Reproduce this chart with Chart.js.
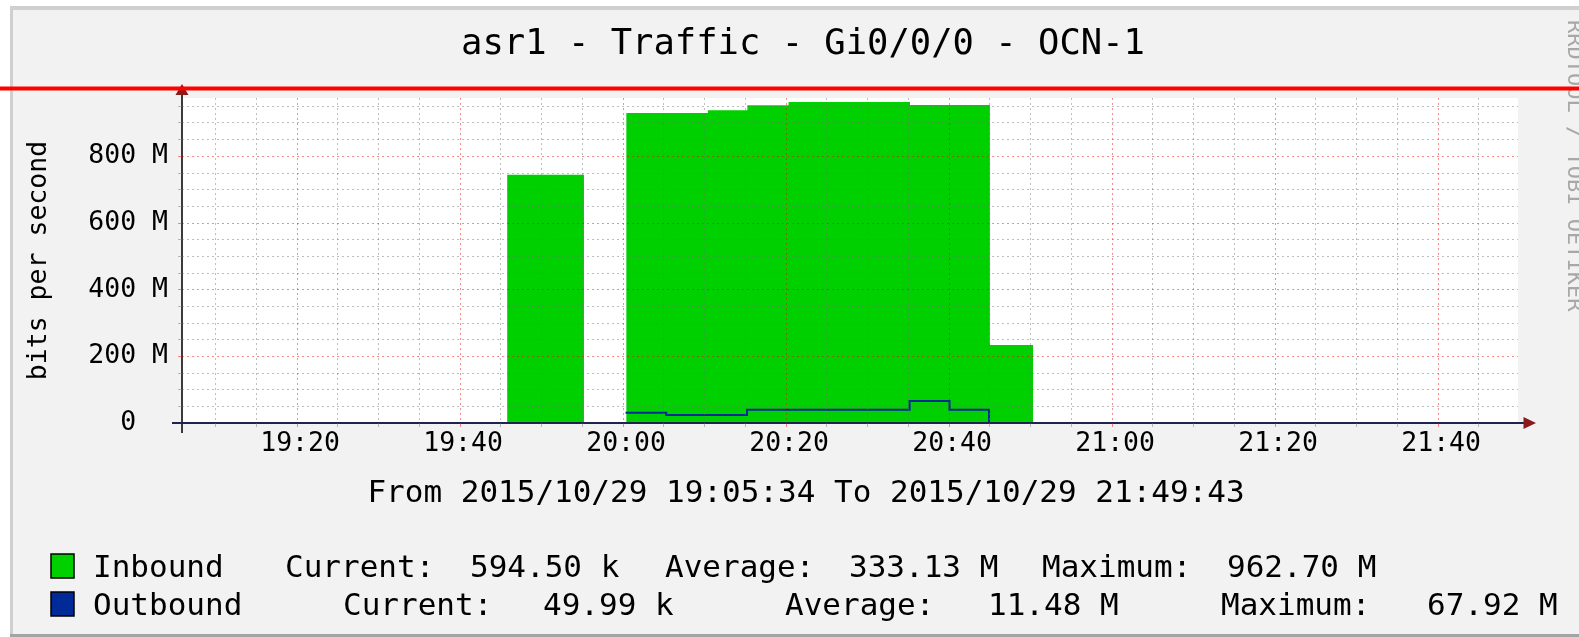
<!DOCTYPE html>
<html>
<head>
<meta charset="utf-8">
<script src="https://cdn.jsdelivr.net/npm/chart.js@4.4.1/dist/chart.umd.min.js"></script>
<style>
html,body{margin:0;padding:0;background:#fff;}
#c{display:block;}
</style>
</head>
<body>
<canvas id="c" width="1579" height="637" style="width:1579px;height:637px"></canvas>
<script>
// Time axis: minutes after 19:00 on 2015/10/29. Values in Mbit/s.
const xStart = 5.88;   // 19:05:53 (plot start)
const xEnd = 169.8;    // 21:49:48 (plot end)
const yMax = 975;

const inboundTimes  = [5.88, 45.78, 55.2, 60.4, 70.4, 75.25, 80.3, 95.2, 105.0, 110.3, 169.8];
const inboundValues = [0,    745,   0,    930,  938,  953,   963,  954,  234,   0,     0];

const outboundTimes  = [5.88, 55.2, 55.3, 60.3, 65.3, 75.2, 95.15, 100.05, 104.9, 169.8];
const outboundValues = [0,    0,    null, 31,   24,   40,   66,    40,     0,     0];

const xLabelTimes = [20, 40, 60, 80, 100, 120, 140, 160];
const xTickLabels = ['19:20', '19:40', '20:00', '20:20', '20:40', '21:00', '21:20', '21:40'];
const yLabelValues = [0, 200, 400, 600, 800];
const yTickLabels = ['0  ', '200 M', '400 M', '600 M', '800 M'];

const seriesNames = ['Inbound', 'Outbound'];
const seriesColors = ['#00CF00', '#002A97'];
const legendCurrent = ['594.50 k', '49.99 k'];
const legendAverage = ['333.13 M', '11.48 M'];
const legendMaximum = ['962.70 M', '67.92 M'];

const chartTitle = 'asr1 - Traffic - Gi0/0/0 - OCN-1';
const yAxisTitle = 'bits per second';
const rangeText = 'From 2015/10/29 19:05:34 To 2015/10/29 21:49:43';
const watermark = 'RRDTOOL / TOBI OETIKER';

const MONO = '"DejaVu Sans Mono", "Liberation Mono", monospace';
const GRID_MINOR = 'rgba(110,110,110,0.45)';
const GRID_MAJOR = 'rgba(240,0,0,0.45)';

Chart.defaults.font.family = MONO;
Chart.defaults.color = '#000';

const toPoints = (xs, ys) => xs.map((x, i) => ({x: x, y: ys[i]}));

const deco = {
  id: 'deco',
  beforeDraw(chart) {
    const c = chart.ctx, a = chart.chartArea;
    c.save();
    c.fillStyle = '#ffffff'; c.fillRect(0, 0, 1579, 637);
    c.fillStyle = '#cfcfcf'; c.fillRect(10, 6, 1569, 631);
    c.fillStyle = '#a4a4a4'; c.fillRect(10, 634, 1569, 3);
    c.fillStyle = '#f2f2f2'; c.fillRect(13, 10, 1566, 624);
    c.fillStyle = '#ffffff'; c.fillRect(a.left, a.top, a.right - a.left, a.bottom - a.top);
    c.restore();
  },
  afterDatasetsDraw(chart) {
    const c = chart.ctx, a = chart.chartArea;
    c.save();
    c.lineWidth = 2;
    c.strokeStyle = '#3a3a3a';
    c.beginPath(); c.moveTo(a.left, a.bottom + 10); c.lineTo(a.left, a.top - 3); c.stroke();
    c.strokeStyle = '#1e2450';
    c.beginPath(); c.moveTo(a.left - 10, a.bottom); c.lineTo(a.right + 6, a.bottom); c.stroke();
    c.fillStyle = '#8b1a1a';
    c.beginPath(); c.moveTo(a.left, a.top - 14); c.lineTo(a.left - 6.5, a.top - 3); c.lineTo(a.left + 6.5, a.top - 3); c.closePath(); c.fill();
    c.beginPath(); c.moveTo(a.right + 18, a.bottom); c.lineTo(a.right + 5.5, a.bottom - 6); c.lineTo(a.right + 5.5, a.bottom + 6); c.closePath(); c.fill();
    c.restore();
  },
  afterDraw(chart) {
    const c = chart.ctx;
    c.save();
    c.fillStyle = '#000';
    c.font = '31px ' + MONO;
    c.textBaseline = 'alphabetic';
    c.textAlign = 'center';
    c.fillText(rangeText, 806, 502);
    c.textAlign = 'left';
    const rows = [
      {y: 577, box: 554, xs: [93, 285, 470, 665, 849, 1042, 1227]},
      {y: 615, box: 592, xs: [93, 343, 543, 785, 988, 1221, 1427]}
    ];
    rows.forEach((r, i) => {
      c.fillStyle = seriesColors[i];
      c.fillRect(51, r.box, 23, 24);
      c.lineWidth = 1.5; c.strokeStyle = '#000';
      c.strokeRect(51, r.box, 23, 24);
      c.fillStyle = '#000';
      const parts = [seriesNames[i], 'Current:', legendCurrent[i], 'Average:', legendAverage[i], 'Maximum:', legendMaximum[i]];
      parts.forEach((p, j) => c.fillText(p, r.xs[j], r.y));
    });
    // watermark
    c.save();
    c.translate(1568, 20);
    c.rotate(Math.PI / 2);
    c.font = '22px ' + MONO;
    c.fillStyle = '#a8a8a8';
    c.textBaseline = 'alphabetic';
    c.fillText(watermark, 0, 0);
    c.restore();
    // red marker line
    c.fillStyle = '#ff0000';
    c.fillRect(0, 86.5, 1579, 4);
    c.restore();
  }
};

new Chart(document.getElementById('c'), {
  type: 'line',
  data: {
    datasets: [
      {
        label: seriesNames[1],
        data: toPoints(outboundTimes, outboundValues),
        stepped: true,
        fill: false,
        borderColor: seriesColors[1],
        borderWidth: 2,
        pointRadius: 0,
        spanGaps: false,
        order: 0
      },
      {
        label: seriesNames[0],
        data: toPoints(inboundTimes, inboundValues),
        stepped: true,
        fill: 'origin',
        backgroundColor: seriesColors[0],
        borderColor: seriesColors[0],
        borderWidth: 0,
        pointRadius: 0,
        order: 1
      }
    ]
  },
  options: {
    responsive: false,
    animation: false,
    devicePixelRatio: 1,
    layout: {padding: {left: 27, right: 0, top: 0, bottom: 124}},
    plugins: {
      legend: {display: false},
      tooltip: {enabled: false},
      title: {
        display: true,
        text: chartTitle,
        color: '#000',
        font: {family: MONO, size: 35.5, weight: 'normal', lineHeight: 1.2},
        padding: {top: 23.2, bottom: 32.2}
      }
    },
    scales: {
      x: {
        type: 'linear',
        position: 'bottom',
        min: xStart,
        max: xEnd,
        afterBuildTicks: s => {
          const t = [];
          for (let v = 10; v <= 165; v += 5) t.push({value: v});
          s.ticks = t;
        },
        afterFit: s => { s.height = 90; s.paddingLeft = 0; s.paddingRight = 0; },
        ticks: {
          autoSkip: false,
          maxRotation: 0,
          minRotation: 0,
          padding: 1,
          labelOffset: 3,
          color: '#000',
          font: {family: MONO, size: 26.5},
          callback: v => { const i = xLabelTimes.indexOf(v); return i >= 0 ? xTickLabels[i] : ''; }
        },
        grid: {
          z: 1,
          lineWidth: 1,
          tickLength: 4,
          color: ctx => (ctx.tick && ctx.tick.value % 20 === 0) ? GRID_MAJOR : GRID_MINOR
        },
        border: {display: false, dash: [2, 3]}
      },
      y: {
        type: 'linear',
        position: 'left',
        min: 0,
        max: yMax,
        afterBuildTicks: s => {
          const t = [];
          for (let v = 0; v <= 950; v += 50) t.push({value: v});
          s.ticks = t;
        },
        afterFit: s => { s.width = 155; s.paddingTop = 0; s.paddingBottom = 0; },
        ticks: {
          autoSkip: false,
          padding: 10,
          color: '#000',
          font: {family: MONO, size: 26.5},
          callback: v => { const i = yLabelValues.indexOf(v); return i >= 0 ? yTickLabels[i] : ''; }
        },
        grid: {
          z: 1,
          lineWidth: 1,
          tickLength: 4,
          color: ctx => {
            if (!ctx.tick) return GRID_MINOR;
            if (ctx.tick.value === 0) return 'rgba(0,0,0,0)';
            return ctx.tick.value % 200 === 0 ? GRID_MAJOR : GRID_MINOR;
          }
        },
        border: {display: false, dash: [2, 3]},
        title: {
          display: true,
          text: yAxisTitle,
          color: '#000',
          font: {family: MONO, size: 26.5, lineHeight: 1.2},
          padding: {top: -4, bottom: 0}
        }
      },
      y2: {
        type: 'linear',
        position: 'right',
        display: true,
        afterFit: s => { s.width = 61; },
        ticks: {display: false},
        grid: {display: false, drawTicks: false},
        border: {display: false}
      }
    }
  },
  plugins: [deco]
});
</script>
</body>
</html>
